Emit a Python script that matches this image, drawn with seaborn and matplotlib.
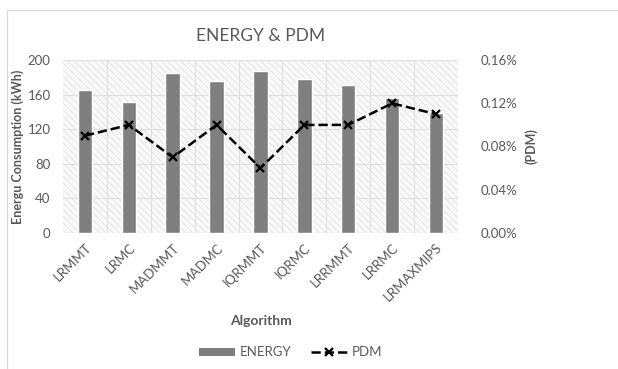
import numpy as np
import matplotlib
matplotlib.use("Agg")
import matplotlib.pyplot as plt
import seaborn as sns
from matplotlib.patches import Rectangle, Patch
from matplotlib.lines import Line2D
from matplotlib.ticker import FuncFormatter

# data
algorithms = ["LRMMT", "LRMC", "MADMMT", "MADMC", "IQRMMT", "IQRMC", "LRRMMT", "LRRMC", "LRMAXMIPS"]
energy = [166, 152, 185, 176, 188, 178, 171, 156, 139]
pdm = [0.09, 0.10, 0.07, 0.10, 0.06, 0.10, 0.10, 0.12, 0.11]  # percent

sns.set_style("white")
plt.rcParams["font.family"] = ["Lato", "DejaVu Sans"]
plt.rcParams["hatch.linewidth"] = 0.4
plt.rcParams["hatch.color"] = "#dcdcdc"

txt = "#595959"
fig = plt.figure(figsize=(6.18, 3.69), dpi=100)
ax = fig.add_axes([0.102, 0.369, 0.639, 0.468])

# hatched plot background
ax.add_patch(Rectangle((0, 0), 1, 1, transform=ax.transAxes, facecolor="#f8f8f8",
                       edgecolor="#dcdcdc", hatch="\\\\\\\\\\", linewidth=0, zorder=0))

sns.barplot(x=algorithms, y=energy, color="#7f7f7f", width=0.33, saturation=1,
            ax=ax, zorder=3)
ax.set_ylim(0, 200)
ax.set_yticks(range(0, 201, 40))
ax.set_xlim(-0.5, len(algorithms) - 0.5)
for y in range(40, 201, 40):
    ax.axhline(y, color="#e0e0e0", lw=0.8, zorder=1)
for x in np.arange(0.5, len(algorithms) - 0.5, 1):
    ax.axvline(x, color="#e0e0e0", lw=0.8, zorder=1)
for s in ax.spines.values():
    s.set_visible(False)
ax.axhline(0, color="#d9d9d9", lw=0.8, zorder=2)

ax.tick_params(axis="both", length=0, colors=txt, labelsize=9.5)
ax.tick_params(axis="y", pad=9)
ax.tick_params(axis="x", pad=6)
plt.setp(ax.get_xticklabels(), rotation=45, ha="right", rotation_mode="anchor")
ax.set_ylabel("Energu Consumption (kWh)", color=txt, fontsize=9, fontweight="bold")
ax.yaxis.set_label_coords(-0.1, 0.5)
ax.set_xlabel("Algorithm", color=txt, fontsize=10, fontweight="bold", labelpad=8)

ax2 = ax.twinx()
sns.lineplot(x=np.arange(len(algorithms)), y=pdm, ax=ax2, color="black",
             linestyle="--", linewidth=1.8, marker="x", markersize=6,
             markeredgewidth=1.6, markeredgecolor="black", zorder=5)
ax2.set_ylim(0, 0.16)
ax2.set_yticks(np.arange(0, 0.161, 0.04))
ax2.yaxis.set_major_formatter(FuncFormatter(lambda v, p: f"{v:.2f}%"))
ax2.tick_params(axis="y", length=0, colors=txt, labelsize=9.5, pad=16)
ax2.set_ylabel("(PDM)", color=txt, fontsize=9, fontweight="bold")
ax2.yaxis.set_label_coords(1.17, 0.5)
for s in ax2.spines.values():
    s.set_visible(False)

ax.set_title("ENERGY & PDM", color=txt, fontsize=12.5, pad=14)

handles = [Patch(facecolor="#7f7f7f", edgecolor="none"),
           Line2D([0], [0], color="black", linestyle="--", lw=1.8, marker="x",
                  markersize=6, markeredgewidth=1.6)]
leg = fig.legend(handles, ["ENERGY", "PDM"], loc="center", bbox_to_anchor=(0.47, 0.045),
                 ncol=2, frameon=False, fontsize=9.5, handlelength=2.8,
                 handleheight=0.6, columnspacing=1.5, handletextpad=0.3)
for t in leg.get_texts():
    t.set_color(txt)

# chart border
fig.add_artist(Rectangle((0.012, -0.01), 1.0, 0.984, transform=fig.transFigure,
                         fill=False, edgecolor="#d9d9d9", lw=0.8))

fig.savefig("out.png", dpi=100)
